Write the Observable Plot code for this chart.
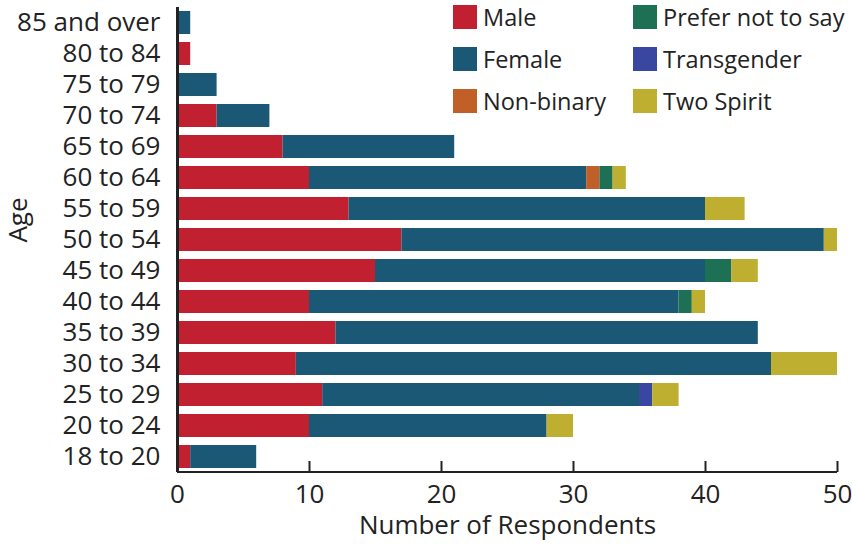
<!DOCTYPE html>
<html>
<head>
<meta charset="utf-8">
<script src="https://cdn.jsdelivr.net/npm/d3@7"></script>
<script src="https://cdn.jsdelivr.net/npm/@observablehq/plot@0.6"></script>
<style>
  body { margin: 0; background: #fff; }
  #wrap { position: relative; width: 852px; height: 546px; font-family: "Open Sans", sans-serif; color: #222; }
  #legend { position: absolute; left: 453px; top: 5px; display: grid; grid-template-columns: 180px 200px; row-gap: 18px; }
  .item { display: flex; align-items: center; height: 24px; font-size: 23.5px; white-space: nowrap; }
  .sw { width: 24px; height: 24px; margin-right: 6px; flex: none; }
</style>
</head>
<body>
<div id="wrap"><div id="chart"></div><div id="legend"></div></div>
<script>
const ages = ["18 to 20","20 to 24","25 to 29","30 to 34","35 to 39","40 to 44","45 to 49","50 to 54","55 to 59","60 to 64","65 to 69","70 to 74","75 to 79","80 to 84","85 and over"];
const genders = ["Male","Female","Non-binary","Prefer not to say","Transgender","Two Spirit"];
const colors = ["#c0202f","#1b5876","#c05f27","#1e7055","#3a47a0","#beaf30"];
const male        = [1,10,11, 9,12,10,15,17,13,10, 8,3,0,1,0];
const female      = [5,18,24,36,32,28,25,32,27,21,13,4,3,0,1];
const nonBinary   = [0, 0, 0, 0, 0, 0, 0, 0, 0, 1, 0,0,0,0,0];
const preferNot   = [0, 0, 0, 0, 0, 1, 2, 0, 0, 1, 0,0,0,0,0];
const transgender = [0, 0, 1, 0, 0, 0, 0, 0, 0, 0, 0,0,0,0,0];
const twoSpirit   = [0, 2, 2, 5, 0, 1, 2, 1, 3, 1, 0,0,0,0,0];
const xTicks = [0,10,20,30,40,50];
const xLabel = "Number of Respondents";
const yLabel = "Age";

const series = [male, female, nonBinary, preferNot, transgender, twoSpirit];
const data = [];
ages.forEach((a, i) => genders.forEach((g, j) => { if (series[j][i] > 0) data.push({age: a, gender: g, value: series[j][i]}); }));

const marginTop = 7, marginBottom = 74;
const frameH = 546 - marginTop - marginBottom;
const fs = 26;

const chart = Plot.plot({
  width: 852, height: 546,
  marginLeft: 177, marginRight: 15, marginTop, marginBottom,
  style: {fontFamily: "Open Sans", fontSize: fs + "px", color: "#222", background: "#fff"},
  x: {domain: [0, 50]},
  y: {domain: ages.slice().reverse(), paddingInner: 0.26, paddingOuter: 0.1},
  color: {domain: genders, range: colors},
  marks: [
    Plot.barX(data, {x: "value", y: "age", fill: "gender", order: genders}),
    Plot.axisX({ticks: xTicks, tickSize: 0, tickPadding: 12, label: null, fontSize: fs}),
    Plot.axisY({tickSize: 0, tickPadding: 17, label: null, fontSize: fs}),
    Plot.ruleX(xTicks, {x: d => d, insetTop: frameH - 11, stroke: "#222", strokeWidth: 2}),
    Plot.ruleX([0], {x: d => d, stroke: "#222", strokeWidth: 3}),
    Plot.rect([0], {x1: () => 0, x2: () => 50, insetTop: frameH - 1, insetBottom: -1, fill: "#222"}),
    Plot.text([xLabel], {frameAnchor: "bottom", textAnchor: "middle", lineAnchor: "middle", dy: 53, fontSize: fs, fill: "#222"}),
    Plot.text([yLabel], {frameAnchor: "left", textAnchor: "middle", lineAnchor: "middle", dx: -159, dy: -20, rotate: -90, fontSize: fs, fill: "#222"})
  ]
});
document.getElementById("chart").appendChild(chart);

const legend = document.getElementById("legend");
const order = [0, 3, 1, 4, 2, 5];
order.forEach(j => {
  const d = document.createElement("div");
  d.className = "item";
  d.innerHTML = `<span class="sw" style="background:${colors[j]}"></span><span>${genders[j]}</span>`;
  legend.appendChild(d);
});
</script>
</body>
</html>
